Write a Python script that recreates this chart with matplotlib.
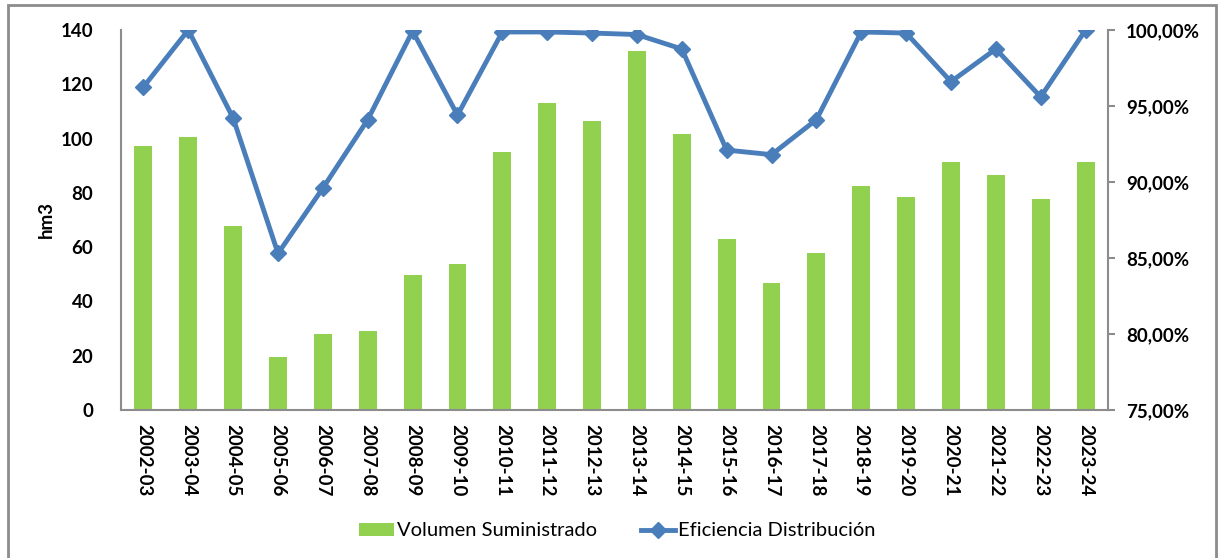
import matplotlib.pyplot as plt
from matplotlib.ticker import FuncFormatter
from matplotlib.patches import Rectangle

plt.rcParams['font.family'] = ['Lato', 'DejaVu Sans']

campanas = ['2002-03', '2003-04', '2004-05', '2005-06', '2006-07', '2007-08',
            '2008-09', '2009-10', '2010-11', '2011-12', '2012-13', '2013-14',
            '2014-15', '2015-16', '2016-17', '2017-18', '2018-19', '2019-20',
            '2020-21', '2021-22', '2022-23', '2023-24']
volumen = [97.3, 100.6, 67.8, 19.6, 28.0, 29.1, 49.7, 53.8, 95.0, 113.0,
           106.6, 132.2, 101.6, 63.0, 46.8, 57.8, 82.5, 78.5, 91.3, 86.6,
           77.7, 91.3]
eficiencia = [96.25, 100.0, 94.2, 85.3, 89.6, 94.1, 99.93, 94.4, 99.87, 99.87,
              99.8, 99.7, 98.75, 92.1, 91.8, 94.1, 99.87, 99.8, 96.6, 98.75,
              95.6, 100.0]

verde = '#92D050'
azul = '#4A7EBB'
gris = '#8C8C8C'

fig = plt.figure(figsize=(12.18, 5.58), dpi=100)
ax = fig.add_axes([121 / 1218, 1 - 410 / 558, 987 / 1218, 380 / 558])
x = range(len(campanas))
barras = ax.bar(x, volumen, width=0.4, color=verde, label='Volumen Suministrado', zorder=2)
ax.set_xlim(-0.5, len(campanas) - 0.5)
ax.set_ylim(0, 140)
ax.set_yticks(range(0, 141, 20))
ax.set_xticks(list(x))
ax.set_xticklabels(campanas, rotation=-90, fontsize=13.5, fontweight='bold')
ax.tick_params(axis='y', length=0, labelsize=13.5, pad=20)
ax.tick_params(axis='x', length=0, pad=10)
for lab in ax.get_yticklabels():
    lab.set_fontweight('bold')
ax.set_ylabel('hm3', fontsize=13.5, fontweight='bold', labelpad=4)
for s in ['top', 'right']:
    ax.spines[s].set_visible(False)
for s in ['left', 'bottom']:
    ax.spines[s].set_color(gris)
    ax.spines[s].set_linewidth(1.5)

ax2 = ax.twinx()
linea, = ax2.plot(x, eficiencia, color=azul, lw=3.5, marker='D', markersize=8,
                  label='Eficiencia Distribución', zorder=3)
ax2.set_ylim(75, 100)
ax2.set_yticks(range(75, 101, 5))
ax2.yaxis.set_major_formatter(FuncFormatter(lambda v, p: f'{v:.2f}%'.replace('.', ',')))
ax2.tick_params(axis='y', length=5, color=gris, width=1.5, labelsize=13.5, pad=8)
for lab in ax2.get_yticklabels():
    lab.set_fontweight('bold')
for s in ['top', 'left', 'bottom']:
    ax2.spines[s].set_visible(False)
ax2.spines['right'].set_color(gris)
ax2.spines['right'].set_linewidth(1.5)

fig.legend([barras, linea], ['Volumen Suministrado', 'Eficiencia Distribución'],
           loc='center', bbox_to_anchor=(0.507, 1 - 531 / 558), ncol=2, frameon=False,
           fontsize=14.5, handlelength=1.7, handleheight=0.6, columnspacing=2.2,
           handletextpad=0.15)

fig.patches.append(Rectangle((8 / 1218, -0.01), 1208 / 1218, 1 - 5 / 558 + 0.01,
                             transform=fig.transFigure, fill=False,
                             edgecolor=gris, lw=2))

fig.savefig('out.png', dpi=100)
